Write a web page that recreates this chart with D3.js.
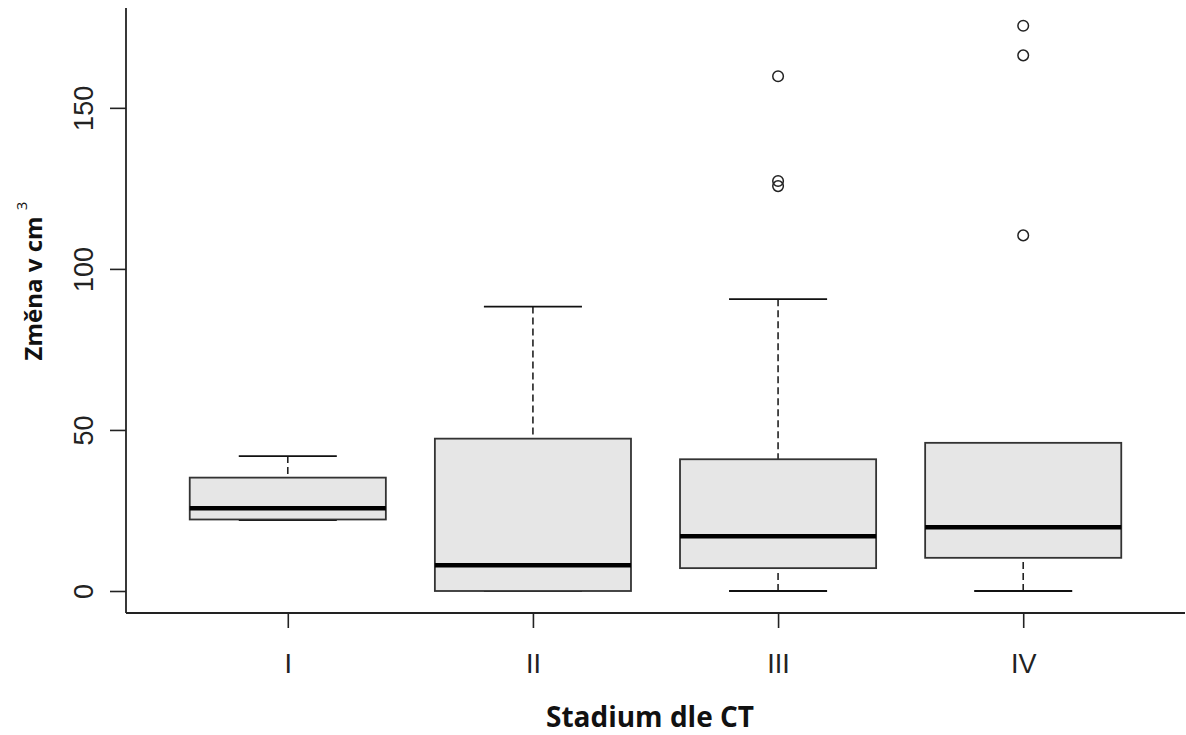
<!DOCTYPE html>
<html>
<head>
<meta charset="utf-8">
<script src="https://cdn.jsdelivr.net/npm/d3@7"></script>
<style>
  html, body { margin: 0; padding: 0; background: #fff; }
  svg { display: block; }
</style>
</head>
<body>
<svg id="chart" width="1186" height="735"></svg>
<script>
// Stadium categories and five-number summaries (cm³ change)
const categories = ["I", "II", "III", "IV"];
const whiskerLow = [22, 0, 0, 0];
const q1 = [22.2, 0, 7.1, 10.3];
const median = [25.7, 8.0, 17.0, 19.8];
const q3 = [35.2, 47.3, 40.9, 46.0];
const whiskerHigh = [41.9, 88.3, 90.6, 46.0];
const outliers = [[], [], [125.7, 127.3, 159.8], [110.4, 166.3, 175.5]];
const yTicks = [0, 50, 100, 150];

const svg = d3.select("#chart");

// plot region (R-style 4% extension on both axes)
const plotLeft = 126, plotRight = 1185, plotTop = 8, plotBottom = 613;
const x = d3.scaleLinear().domain([0.34, 4.66]).range([plotLeft, plotRight]);
const y = d3.scaleLinear().domain([-6.83, 181.0]).range([plotBottom, plotTop]);
const boxHalf = 0.4, capHalf = 0.2;
const tickFont = "'Liberation Sans', Arial, sans-serif";
const titleFont = "'Open Sans', sans-serif";

const rows = categories.map((c, i) => ({
  cat: c, pos: i + 1,
  lo: whiskerLow[i], q1: q1[i], med: median[i], q3: q3[i], hi: whiskerHigh[i],
  out: outliers[i]
}));

const g = svg.append("g");

// whiskers (dashed) and caps
rows.forEach(d => {
  const cx = x(d.pos);
  if (d.hi > d.q3) {
    g.append("line").attr("x1", cx).attr("x2", cx).attr("y1", y(d.hi)).attr("y2", y(d.q3))
      .attr("stroke", "#222").attr("stroke-width", 1.6).attr("stroke-dasharray", "7,4");
  }
  if (d.lo < d.q1) {
    g.append("line").attr("x1", cx).attr("x2", cx).attr("y1", y(d.lo)).attr("y2", y(d.q1))
      .attr("stroke", "#222").attr("stroke-width", 1.6).attr("stroke-dasharray", "7,4");
  }
  [d.lo, d.hi].forEach(v => {
    g.append("line").attr("x1", x(d.pos - capHalf)).attr("x2", x(d.pos + capHalf))
      .attr("y1", y(v)).attr("y2", y(v))
      .attr("stroke", "#111").attr("stroke-width", 1.8);
  });
});

// boxes
g.selectAll("rect.box").data(rows).join("rect")
  .attr("class", "box")
  .attr("x", d => x(d.pos - boxHalf))
  .attr("width", d => x(d.pos + boxHalf) - x(d.pos - boxHalf))
  .attr("y", d => y(d.q3))
  .attr("height", d => y(d.q1) - y(d.q3))
  .attr("fill", "#e6e6e6").attr("stroke", "#333").attr("stroke-width", 1.8);

// medians
g.selectAll("line.med").data(rows).join("line")
  .attr("class", "med")
  .attr("x1", d => x(d.pos - boxHalf)).attr("x2", d => x(d.pos + boxHalf))
  .attr("y1", d => y(d.med)).attr("y2", d => y(d.med))
  .attr("stroke", "#000").attr("stroke-width", 4.5);

// outliers
rows.forEach(d => {
  g.selectAll(null).data(d.out).join("circle")
    .attr("cx", x(d.pos)).attr("cy", v => y(v)).attr("r", 5.3)
    .attr("fill", "none").attr("stroke", "#222").attr("stroke-width", 1.5);
});

// y axis
const yAxis = d3.axisLeft(y).tickValues(yTicks).tickSize(16);
const yg = svg.append("g").attr("transform", `translate(${plotLeft},0)`).call(yAxis);
yg.select(".domain").attr("d", `M0,${plotTop}V${plotBottom}`).attr("stroke", "#222").attr("stroke-width", 1.8);
yg.selectAll(".tick line").attr("stroke", "#222").attr("stroke-width", 1.6);
yg.selectAll(".tick text")
  .attr("transform", "translate(-33,0) rotate(-90)")
  .attr("x", 0).attr("y", 0).attr("dy", "0")
  .attr("text-anchor", "middle")
  .attr("font-family", tickFont)
  .attr("font-size", 27).attr("fill", "#222");

// x axis
const xAxis = d3.axisBottom(x).tickValues(rows.map(d => d.pos))
  .tickFormat((d, i) => categories[i]).tickSize(15);
const xg = svg.append("g").attr("transform", `translate(0,${plotBottom})`).call(xAxis);
xg.select(".domain").attr("d", `M${plotLeft},0H${plotRight}`).attr("stroke", "#222").attr("stroke-width", 1.8);
xg.selectAll(".tick line").attr("stroke", "#222").attr("stroke-width", 1.6);
xg.selectAll(".tick text")
  .attr("y", 60).attr("dy", "0")
  .attr("font-family", tickFont)
  .attr("font-size", 27).attr("fill", "#222");

// axis titles
svg.append("text")
  .attr("x", 650).attr("y", 727)
  .attr("text-anchor", "middle")
  .attr("font-family", titleFont).attr("font-weight", "bold")
  .attr("font-size", 28).attr("fill", "#111")
  .text("Stadium dle CT");

const yt = svg.append("text")
  .attr("transform", "translate(42,281) rotate(-90)")
  .attr("text-anchor", "middle")
  .attr("font-family", titleFont)
  .attr("font-size", 24).attr("fill", "#111");
yt.append("tspan").attr("font-weight", "bold").text("Změna v cm ");
yt.append("tspan").attr("font-size", 15).attr("dy", -15).text("3");
</script>
</body>
</html>
